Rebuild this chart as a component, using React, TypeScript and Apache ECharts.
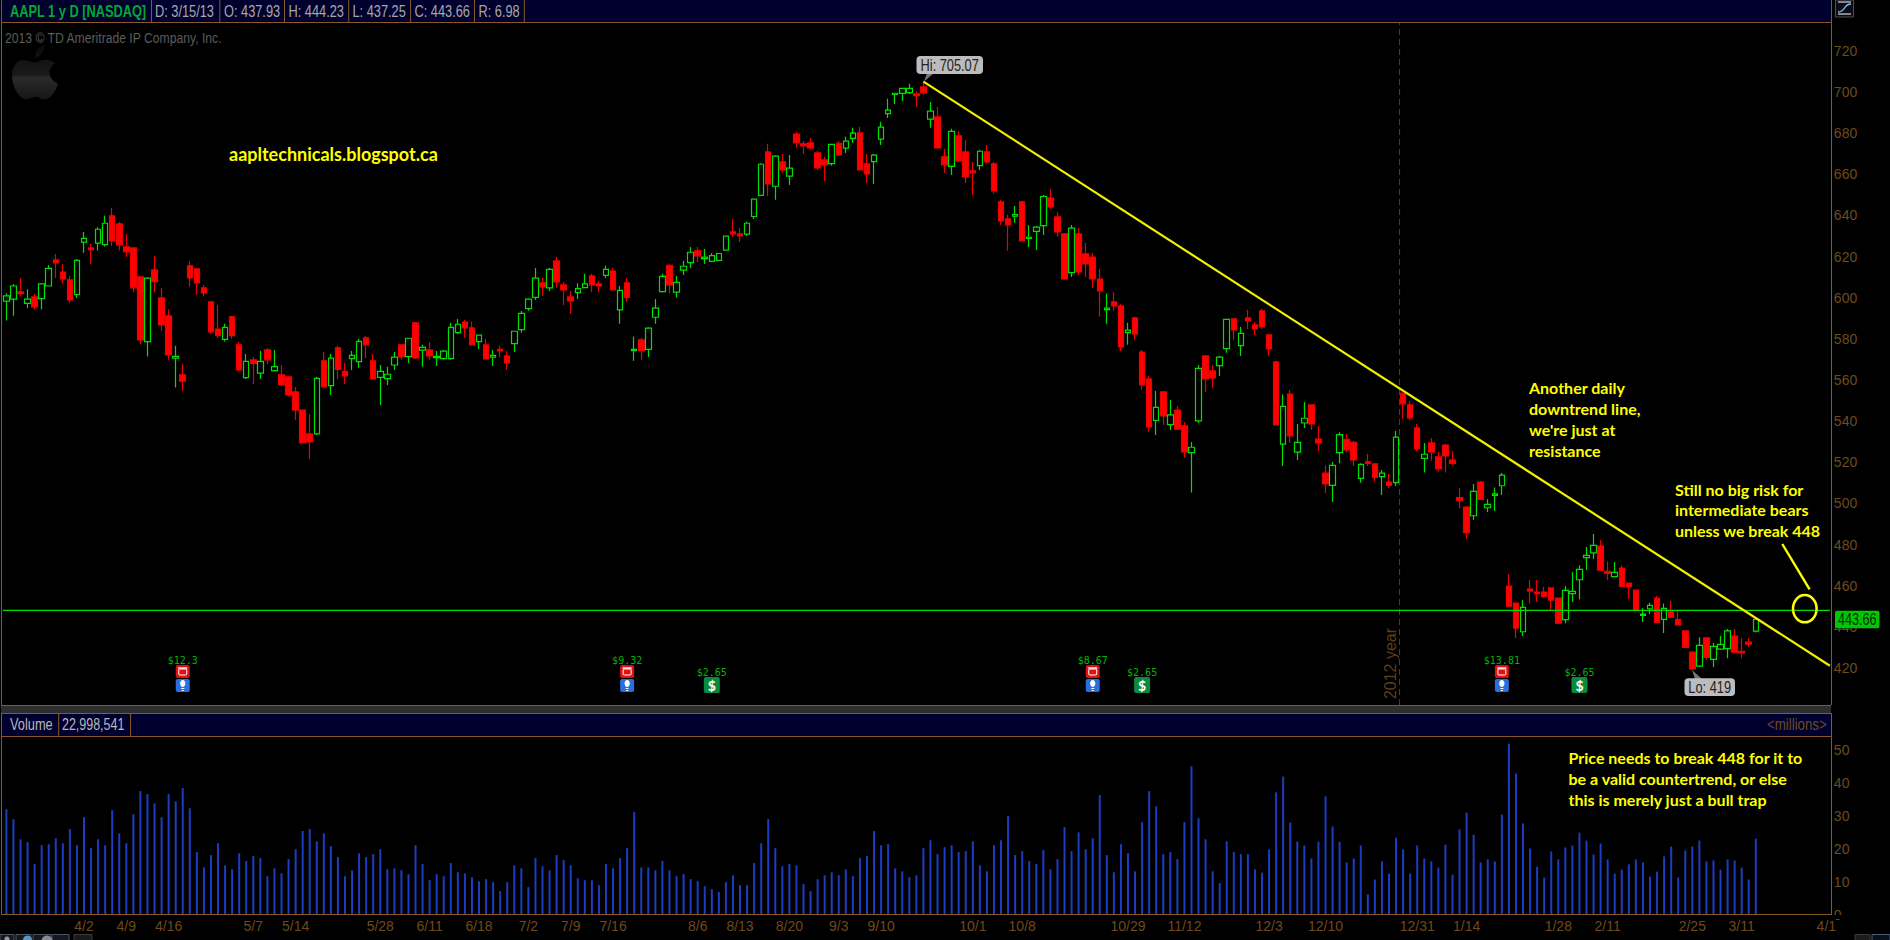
import React, { useEffect, useRef } from "react";
import * as echarts from "echarts";

// [open, close, low, high]
const ohlc: number[][] = [
[598.3,600.9,588.9,602.2],[599.3,605.7,591.2,606.7],[602.8,602,600.9,609.6],[597.3,599.3,595,604.1],[600.4,595.5,594.1,601.8],
[599.6,606.7,594.4,607],[605.7,614.3,605.4,615.8],[618.4,616.9,609.6,621.3],[612.5,609.1,606.7,616.4],[608.7,598.9,597.3,610.6],
[601.5,618.2,599.9,618.7],[627,628.9,621.9,632],[624.2,623.4,616.4,626.2],[626.5,633.3,622.9,634.3],[625.8,636.2,624.9,639.8],
[639.8,627.6,625.2,643.7],[635.9,625.7,622.9,636.9],[624.7,622.3,619.8,631],[624.2,604.8,602.8,624.5],[610.1,579.5,577.5,610.1],
[578.7,609.5,571.4,610],[613.5,607.8,602.5,620.3],[599.9,586.8,584,604.8],[591.2,572.2,569.8,594.4],[570.6,571.5,556.3,576.6],
[562.5,559.5,554.8,567.8],[615.5,609.6,605.4,617.9],[614,607.2,601.4,614.5],[604.8,602.3,600.6,606.2],[598,583.4,582.4,598.4],
[584.8,581.6,580.5,596.5],[579.8,585.6,578.7,587.3],[590.7,581.6,580,591.2],[577.1,564.9,564.4,578.5],[561.2,569.1,560.5,572.7],
[569.8,568.1,558.1,571.2],[563.3,569.1,560.5,574.1],[574.6,569.8,567.8,575.6],[564.6,566.5,564.1,574.6],[562.5,557.6,557.1,567.3],
[561.5,552.7,551.9,562],[554.2,545.4,540.6,556.6],[545.4,529.4,529.4,545.4],[533.8,529.9,521.6,543.5],[533.8,560.8,533.3,561.5],
[569.3,556.6,556.5,573.6],[557.3,570.6,552.7,572.7],[575.6,565.2,560.5,576.6],[564.2,562,558.1,568.1],[570.4,572,564.9,574.1],
[568.9,578.8,565.9,580],[580.5,577.1,570.7,581.4],[569.3,560.5,560,572.7],[561.3,564.2,547.9,567.3],[560.7,562.8,557.6,566.4],
[567.3,571.1,564.9,573.6],[577.1,571.2,569.8,577.1],[571.4,580.3,568.3,580.5],[587.8,570.7,570.2,588.2],[574.5,575.9,566.4,577.1],
[574.6,571.7,569.8,578.5],[570.9,571.5,566.8,574.1],[570.4,574,569.8,574.6],[570.4,585.6,569.8,587.8],[583,587.1,582.4,589.7],
[588.2,585.3,580.5,589.2],[585.3,577.1,577,588.2],[578.7,581.8,575.1,581.9],[577.1,570.2,569.8,580],[571.1,572,566.8,574.6],
[574.9,574.1,571.2,576.6],[571.7,568.3,564.9,574.1],[577.7,583.7,573.6,583.9],[584.5,592.4,583,593.6],[594.7,599.3,593.7,599.7],
[600.2,609.5,598.9,614.5],[607.2,605.3,600.9,609.6],[604.8,613.8,603.3,614.5],[617.9,607.7,604.8,619.8],[606.2,603.8,596.5,607.7],
[600.4,598.4,592.1,603.3],[602.5,604.4,599.4,607],[604.9,606.7,604.8,611.6],[610.6,606.2,602.8,611.6],[606.7,605.7,602.8,608.2],
[610.9,613.8,609.6,615.5],[613,603.8,603.5,614.5],[594.1,603.6,587.3,605.7],[607.2,600.2,598,609.6],
[574.3,574.9,569.4,581.1],[579.5,574.3,569.8,580.5],[574.9,585.2,571.2,585.6],[590.5,594.9,587.3,599.4],[603,610.4,602.5,611.6],
[615.8,606.2,602.2,616.3],[602.7,607.5,600.1,610.6],[613.4,615.3,611.1,617.9],[617.1,622.1,614.5,624.7],[622.8,620.3,617.4,624.7],
[619,619.7,616.4,623.7],[617.7,620.5,617.4,621.8],[618.2,621.5,617.9,621.8],[623.1,629.9,622.8,630],[632,631,629.6,638.3],
[631,630,627.1,633.9],[630.9,636.2,630,636.9],[639.5,647.9,638.3,648],[649.8,664.9,649.5,665.4],[670.9,655.3,649.5,674.8],
[654.2,668.8,647.6,669.3],[666,662.1,660.7,669.9],[659.1,663,654.8,669.4],[679.6,675.3,672.8,680.6],[674.8,673.8,669.9,676.2],
[675.3,672.8,671.9,677.7],[670.4,663.1,662.1,671.4],[667,664.6,656.8,668.5],[665.2,674.6,664.1,674.8],[675.1,669.4,668.9,676.2],
[672.7,676.1,670.4,678.2],[677.5,680,675.3,682.6],[680.1,662.1,661.7,683],[665.1,660.2,655.8,669.9],[666.2,669.3,655.3,669.9],
[677.1,682.9,674.3,685.5],[689.5,691.2,687.4,696.7],[698.8,699.4,694.2,699.4],[699.3,701.8,695.7,701.8],[699.7,701.8,699.1,704],
[699.1,698.3,692.8,700.1],[702.5,699.6,698.6,705.07],[686.8,690.7,682.6,695.2],[687.9,672.8,672.4,692.8],[668.5,664.6,660.7,672.4],
[663.9,680.9,659.7,682.1],[678.7,666.5,666,681.1],[670.9,658.7,655.8,676.7],[661.7,660.7,650,666],[664.2,671.2,662.1,671.9],
[670.9,666,665.1,674.3],[665.1,651.9,650.5,666],[646.6,637.3,635.4,647.6],[638.3,635.4,622.8,640.3],[639.6,640.4,636.4,644.6],
[646.6,627.6,627.6,647.1],[628.8,629.4,624.7,635.4],[632.3,634.3,623.2,634.9],[635.1,649.2,630.5,650],[648.5,644.2,643.2,652.9],
[639.3,632,629.6,641.7],[631,609.1,609.1,631.5],[612.2,633.8,610.1,635.4],[631,612.5,611.1,633.9],[621.3,616.4,610.1,626.6],
[619.8,609.1,604.8,621.8],[609.1,603.3,590.7,614],[594.2,594.9,587.3,602],[598,596,593.6,602.8],[596,576.1,574.1,597],
[583,584.2,577.1,587.8],[590.2,582.4,579.5,590.7],[573.6,557.6,555.2,574.6],[560.5,537.2,534.8,562],[540.3,546.7,533.3,554.7],
[554.2,542.5,538.2,554.7],[538.3,543,535.7,550.3],[545.4,536.1,535.7,547.4],[537.7,525,522.1,539.6],[524.7,527.3,505.3,529.9],
[540.1,565.7,539.1,567.3],[571.7,560.5,554.2,571.7],[564.4,561,556.1,567.3],[567,571.1,562,571.7],[575.3,589.5,573.2,589.7],
[589.7,584.3,579.5,590.2],[576.7,582.7,571.7,585.8],[590.2,588.7,584.8,594.1],[586.8,584.8,581.9,588.2],
[593.6,585.8,584.8,594.6],[581.9,575.1,571.7,581.9],[568.8,538.2,538.2,569.3],[528.8,547.2,518.2,553],[553.2,532.8,529.4,555.2],
[524.9,529.7,521.1,538.6],[539.1,541.4,536.7,549.3],[547.9,538.6,535.7,547.9],[531.3,529.4,525.5,537.7],[514.7,509.5,504.9,518.4],
[508.8,518.5,500.7,520.2],[524.7,533.4,519.5,534.6],[531.2,526,525,533.8],[529.7,521.1,518.2,530.4],[512.2,519,510.1,519.5],
[520.2,519.4,518.2,524.1],[519.2,512.7,510.6,519.2],[513,514.7,504.1,516.3],[510.4,508.8,507.4,514.3],[510.1,532.2,508.5,535.2],
[553.6,548.4,541.1,553.9],[547.9,541.6,540.6,549.8],[536.7,526.5,525.5,538.6],[521.9,523.9,515,529.4],[529.4,525,520.7,531.8],
[522.6,516.8,515.5,525],[528.4,523.1,515,528.9],[521.1,519.5,518.7,525.5],[502.8,501.3,497.6,507.5],[498.2,485.8,482.7,498.7],
[494,505.9,491.9,509.4],[510.4,502,501.7,510.9],[497.9,499.5,495.8,502],[503.9,504.6,496.3,507.8],[508.6,513.8,504.1,514.8],
[459.8,450.1,449.8,465.7],[451.6,439.4,434.6,451.6],[437.6,449.5,435.5,453],[458.4,457.4,451.4,462.8],[456.9,456.1,452.1,462.8],
[456.9,454.8,454.3,459.5],[458.9,453,448.2,459.3],[454,441.8,441.4,454],[443.5,457.7,441.7,459.8],[456.1,457.2,452.1,466.6],
[462.9,467.9,453.4,469.9],[473.6,474.7,467.6,478.8],[476,479.6,473,485.1],[479.3,467.5,467.1,482.2],[467,466,462.8,471.8],
[464.4,466.5,464.1,471.5],[468.6,459.7,459.2,470],[461.3,459.4,453.5,461.3],[457.9,448.2,448.2,457.9],[445.6,446.2,442.3,449],
[448.8,450.4,446.2,451.7],[454,442.2,441.8,455],[443.6,449,437,451.4],[447.7,444.6,444.4,452.5],[443.6,440.9,440.7,447.7],
[438,430,429.5,438],[427.7,419.5,419,428.2],[420.9,431,420.5,434.9],[434.6,425.2,423.9,435],[424.2,430.5,420.5,432.1],
[429.2,431.5,428.7,435.5],[429.4,438,424.7,438.9],[435.5,427.7,427.1,438.9],[428.1,427.3,424.7,434.6],[432.6,431.6,430.2,434.6],
[437.93,443.66,437.25,444.23],
];

// volume, millions
const volumes: number[] = [
31.9,28.9,22.8,21.9,15.3,21,21.3,23.1,21.6,25.9,21,29.5,20.1,22.8,21,31.6,24.6,21.6,30.4,37.4,
36.5,33.7,29.5,36.5,34.3,38.3,32.2,18.9,14.3,18,21.6,14.9,13.7,18.6,16.2,17.7,17.1,11.6,14,12.5,
16.8,19.8,25.3,25.9,22.2,24.6,20.7,17.4,11.6,13.4,18.6,17.4,18.3,19.8,13.7,14,13.4,12.2,21,15.3,
10.4,12.2,11.6,15.6,12.8,12.5,11.3,10.1,10.7,9.8,7.1,9.8,14.9,14,8.3,17.1,14.6,13.4,18,16.5,
14.9,11,10.4,10.4,8.9,15.3,14,17.1,20.1,
31,14.3,14.3,13.4,16.2,13.4,11.6,12.2,10.7,10.1,8.6,7.7,6.8,9.8,11.9,8.9,8.9,15.6,21.6,28.9,
20.1,14.6,15.3,14.9,9.2,7.1,10.7,11.9,12.8,11.9,13.7,11.6,17.1,17.7,25.3,21,21.3,14,13.1,11.3,
11.9,20.1,22.5,18.3,20.4,21,18.9,19.2,22.2,14.9,13.1,21,22.5,29.8,18,19.2,16.2,15.3,19.5,13.7,
16.8,26.5,19.2,24.9,19.8,23.1,36.2,18,12.8,21.3,18.6,13.1,28,37.4,32.8,18.3,18.9,16.8,28,44.9,
29.2,22.8,13.1,9.5,22.2,18.9,18.3,18.3,13.7,
12.7,19.7,37,41.8,27.9,22.1,20.9,17,22.1,35.8,26.7,22.1,15.8,17,20.9,6.1,10.6,16.1,12.4,23.3,
19.7,12.4,20.9,17,16.1,14.2,21.2,12.1,25.8,30.9,24.2,15.8,16.7,16.1,30.3,51.8,42.7,27.6,20,14.5,
11.2,19.1,16.7,20.3,20.9,24.8,22.4,18.2,21.5,16.7,12.4,13.6,15.2,16.7,15.8,11.5,13,17.6,20.6,11.2,
19.4,20.6,22.4,16.1,16.4,13.6,16.7,16.4,14.2,10.6,23,
];

const SLOT_COUNT = 259;
const dateLabels: [number, string][] = [
[11,"4/2"],[17,"4/9"],[23,"4/16"],[35,"5/7"],[41,"5/14"],[53,"5/28"],[60,"6/11"],[67,"6/18"],[74,"7/2"],[80,"7/9"],
[86,"7/16"],[98,"8/6"],[104,"8/13"],[111,"8/20"],[118,"9/3"],[124,"9/10"],[137,"10/1"],[144,"10/8"],[159,"10/29"],[167,"11/12"],
[179,"12/3"],[187,"12/10"],[200,"12/31"],[207,"1/14"],[220,"1/28"],[227,"2/11"],[239,"2/25"],[246,"3/11"],[258,"4/1"],
];
const priceTicks = [420,440,460,480,500,520,540,560,580,600,620,640,660,680,700,720];
const volumeTicks = [0,10,20,30,40,50];
const trendline: number[][] = [[130,705.07],[258.5,421.1]];
const support = 448;
const yearSlot = 197.5;
const earnings: [number, string][] = [[25,"$12.3"],[88,"$9.32"],[154,"$8.67"],[212,"$13.81"]];
const dividends: [number, string][] = [[100,"$2.65"],[161,"$2.65"],[223,"$2.65"]];
const headerCells: [number, string][] = [[155,"D: 3/15/13"],[224,"O: 437.93"],[288.5,"H: 444.23"],[352.5,"L: 437.25"],[414.5,"C: 443.66"],[478.5,"R: 6.98"]];
const headerSeps = [151.5,219.8,284.5,348.7,410.6,474.5,524.3];
const noteTrend = ["Another daily","downtrend line,","we're just at","resistance"];
const noteBears = ["Still no big risk for","intermediate bears","unless we break 448"];
const noteVolume = ["Price needs to break 448 for it to","be a valid countertrend, or else","this is merely just a bull trap"];

const BROWN = "#6e4a1e";
const BORDER = "#8a5a22";
const NAVY = "#00002e";
const GREEN = "#00e000";
const YELLOW = "#ffff00";
const SANS = '"Liberation Sans",Arial,sans-serif';
const NOTE = 'Lato,"Open Sans",sans-serif';
const NARROW_SCALE = 0.8;

const GRID_LEFT = 2.87;
const GRID_W = 1827;
const slotX = (i: number) => GRID_LEFT + ((i + 0.5) * GRID_W) / SLOT_COUNT;

echarts.graphic.registerShape(
  "applelogo",
  echarts.graphic.extendPath("M72 32 C60 32 55 38 48 38 C41 38 34 32 24 32 C10 33 0 47 0 66 C0 92 16 118 30 118 C38 118 41 113 50 113 C59 113 62 118 70 118 C84 118 94 96 98 84 C86 79 80 70 80 60 C80 50 86 43 92 40 C87 34 79 32 72 32 Z M70 0 C70 10 62 26 50 27 C48 15 58 2 70 0 Z", {}) as any
);

const T = (x: number, y: number, text: string, fill: string, font: string, extra: any = {}, scaleX = 1) => ({
  type: "text", x, y, scaleX, z: 110, silent: true,
  style: { text, fill, font, textVerticalAlign: "middle", ...extra },
});
const R = (x: number, y: number, width: number, height: number, fill: string, z = 100, r = 0, stroke?: string) => ({
  type: "rect", z, silent: true, shape: { x, y, width, height, r }, style: { fill, stroke, lineWidth: stroke ? 1 : 0 },
});
const L = (x1: number, y1: number, x2: number, y2: number, stroke: string, lineWidth = 1, z = 101) => ({
  type: "line", z, silent: true, shape: { x1, y1, x2, y2 }, style: { stroke, lineWidth },
});

function buildGraphics() {
  const g: any[] = [];
  // header bars, borders
  g.push(R(1, 0, 1830, 22, NAVY));
  g.push(R(1, 714, 1830, 22, NAVY));
  g.push(R(1, 706, 1830, 7, "#2e2e2e"));
  g.push(L(1, 22.5, 1831, 22.5, BORDER));
  g.push(L(1, 705.5, 1831, 705.5, BORDER));
  g.push(L(1, 713.5, 1831, 713.5, BORDER));
  g.push(L(1, 736.5, 1831, 736.5, BORDER));
  g.push(L(1, 914.5, 1831, 914.5, BORDER));
  g.push(L(1.5, 0, 1.5, 705, BORDER));
  g.push(L(1.5, 713, 1.5, 915, BORDER));
  g.push(L(1831.5, 0, 1831.5, 705, BORDER));
  g.push(L(1831.5, 713, 1831.5, 915, BORDER));
  headerSeps.forEach((x) => g.push(L(x, 0, x, 22, BORDER)));
  g.push(L(58.7, 714, 58.7, 736, BORDER));
  g.push(L(130.6, 714, 130.6, 736, BORDER));
  g.push(R(1832, 915, 30, 4, "#000000", 105));
  // header texts
  g.push(T(10, 11, "AAPL 1 y D [NASDAQ]", "#00a832", "bold 16px " + SANS, {}, NARROW_SCALE));
  headerCells.forEach(([x, s]) => g.push(T(x, 11, s, "#a8a8a8", "16px " + SANS, {}, NARROW_SCALE)));
  g.push(T(5, 38, "2013 © TD Ameritrade IP Company, Inc.", "#5c5c5c", "14.5px " + SANS, {}, 0.84));
  g.push(T(10, 724.5, "Volume", "#b8b8b8", "16px " + SANS, {}, NARROW_SCALE));
  g.push(T(62, 724.5, "22,998,541", "#b8b8b8", "16px " + SANS, {}, 0.78));
  g.push(T(1767, 724.5, "<millions>", BROWN, "16px " + SANS, {}, 0.83));
  // logo
  g.push({
    type: "applelogo", x: 12, y: 45, scaleX: 0.47, scaleY: 0.46, z: 20, silent: true,
    style: {
      fill: { type: "linear", x: 0, y: 0, x2: 0, y2: 1, colorStops: [{ offset: 0, color: "#0a0a0a" }, { offset: 0.55, color: "#1a1a1a" }, { offset: 0.6, color: "#2a2a2a" }, { offset: 1, color: "#161616" }] },
    },
  });
  // annotations
  g.push(T(229, 153.5, "aapltechnicals.blogspot.ca", YELLOW, "bold 18px " + NOTE));
  noteTrend.forEach((s, i) => g.push(T(1529, 387 + i * 21.2, s, YELLOW, "bold 16px " + NOTE)));
  noteBears.forEach((s, i) => g.push(T(1675, 489 + i * 20.9, s, YELLOW, "bold 16px " + NOTE)));
  noteVolume.forEach((s, i) => g.push(T(1568.5, 757 + i * 21, s, YELLOW, "bold 16px " + NOTE)));
  g.push(L(1782.3, 544, 1809.6, 589.3, YELLOW, 2.4));
  g.push({ type: "ellipse", z: 101, silent: true, shape: { cx: 1804.8, cy: 608.7, rx: 11.8, ry: 13.6 }, style: { fill: "none", stroke: YELLOW, lineWidth: 2.5 } });
  // year label
  g.push({
    type: "text", x: 1390.5, y: 663.5, rotation: Math.PI / 2, z: 30, silent: true,
    style: { text: "2012 year", fill: "#5c3f1a", font: "16px " + SANS, textAlign: "center", textVerticalAlign: "middle" },
  });
  // Hi / Lo callouts
  g.push({ type: "polygon", z: 102, silent: true, shape: { points: [[924, 81.5], [927, 73], [934, 73]] }, style: { fill: "#777" } });
  g.push(R(916.5, 56, 66.5, 18, "#bcbcbc", 103, 4));
  g.push(T(949.7, 65, "Hi: 705.07", "#222", "16px " + SANS, { textAlign: "center" }, NARROW_SCALE));
  g.push({ type: "polygon", z: 102, silent: true, shape: { points: [[1692, 670], [1695, 679], [1702, 679]] }, style: { fill: "#777" } });
  g.push(R(1684.5, 678.3, 50.5, 17.7, "#bcbcbc", 103, 4));
  g.push(T(1709.7, 687, "Lo: 419", "#222", "16px " + SANS, { textAlign: "center" }, NARROW_SCALE));
  // last price tag
  g.push(R(1835, 610.7, 44.5, 17.5, "#00c800", 106, 2));
  g.push(T(1857.2, 619.5, "443.66", "#062a06", "16px " + SANS, { textAlign: "center" }, 0.79));
  // events
  earnings.forEach(([i, s]) => {
    const x = slotX(i);
    g.push(T(x, 660, s, "#00b400", '10px "DejaVu Sans Mono",monospace', { textAlign: "center" }));
    g.push(R(x - 7, 665, 14, 13, "#e01010", 100, 2));
    g.push(R(x - 4, 669, 8, 6, "none", 101, 1, "#ffffff"));
    g.push(L(x - 4.5, 668, x + 4.5, 668, "#ffffff", 1.4));
    g.push(R(x - 7, 679, 14, 13, "#2a6fe0", 100, 2));
    g.push({ type: "ellipse", z: 101, silent: true, shape: { cx: x, cy: 683.5, rx: 2.6, ry: 3.4 }, style: { fill: "#ffffff" } });
    g.push(L(x - 1.5, 688.5, x + 1.5, 688.5, "#ffffff", 1));
    g.push(L(x - 1, 690.5, x + 1, 690.5, "#ffffff", 1));
  });
  dividends.forEach(([i, s]) => {
    const x = slotX(i);
    g.push(T(x, 672, s, "#00b400", '10px "DejaVu Sans Mono",monospace', { textAlign: "center" }));
    g.push(R(x - 8, 677, 16, 16, "#0a8a3e", 100, 2));
    g.push(T(x, 685.5, "$", "#ffffff", "bold 14px " + NOTE, { textAlign: "center" }));
  });
  // corner widgets
  g.push(R(1835.5, 0, 18, 17, "#0c0c14", 100, 0, "#4a4f5a"));
  g.push(L(1838, 2, 1851, 2, "#ffffff", 1));
  g.push(L(1838, 14, 1851, 14, "#ffffff", 1));
  g.push({ type: "bezierCurve", z: 102, silent: true, shape: { x1: 1838, y1: 12, cpx1: 1846, cpy1: 12, cpx2: 1843, cpy2: 4, x2: 1851, y2: 4 }, style: { stroke: "#78c0f0", lineWidth: 1.4, fill: "none" } });
  [[0, 14], [16, 15], [33, 18], [52, 17]].forEach(([x, w]) => g.push(R(x, 934.5, w, 6, "#15181f", 100, 0, "#4c5260")));
  g.push({ type: "circle", z: 101, silent: true, shape: { cx: 7, cy: 939, r: 2.5 }, style: { fill: "#99a" } });
  g.push({ type: "circle", z: 101, silent: true, shape: { cx: 27.5, cy: 940, r: 4.5 }, style: { fill: "#5a96c8" } });
  g.push({ type: "circle", z: 101, silent: true, shape: { cx: 47, cy: 941, r: 5.5 }, style: { fill: "#8a8a8a" } });
  g.push(R(74, 934.5, 18, 6, "#1a1a1a", 100, 0, "#3a3a3a"));
  g.push(R(1855, 934.5, 15, 6, "#1c1c1c", 100, 0, "#3a3a3a"));
  g.push(R(1872, 934.5, 18, 6, "#0c1018", 100, 0, "#4a5a78"));
  return g;
}

export default function App() {
  const ref = useRef<HTMLDivElement>(null);
  useEffect(() => {
    document.body.style.margin = "0";
    document.body.style.background = "#000";
    const chart = echarts.init(ref.current!, undefined, { renderer: "svg" });
    const byIndex = new Map(dateLabels);
    const categories = Array.from({ length: SLOT_COUNT }, (_, i) => byIndex.get(i) ?? "");
    chart.setOption({
      animation: false,
      backgroundColor: "#000000",
      grid: [
        { left: GRID_LEFT, width: GRID_W, top: 22.3, height: 682.7 },
        { left: GRID_LEFT, width: GRID_W, top: 736, height: 178.5 },
      ],
      xAxis: [
        { type: "category", gridIndex: 0, data: categories, show: false, boundaryGap: true },
        { type: "value", gridIndex: 0, min: -0.5, max: SLOT_COUNT - 0.5, show: false },
        {
          type: "category", gridIndex: 1, data: categories, boundaryGap: true,
          axisLine: { show: false }, axisTick: { show: false }, splitLine: { show: false },
          axisLabel: {
            color: BROWN, fontFamily: SANS, fontSize: 14, margin: 4, hideOverlap: false,
            interval: (i: number) => categories[i] !== "",
          },
        },
      ],
      yAxis: [
        {
          type: "value", gridIndex: 0, position: "right", min: 402, max: 733.9, splitLine: { show: false },
          axisLine: { show: false }, axisTick: { show: false },
          axisLabel: { customValues: priceTicks, color: BROWN, fontFamily: SANS, fontSize: 14, margin: 4, align: "left" },
        },
        {
          type: "value", gridIndex: 1, position: "right", min: 0, max: 54.1, splitLine: { show: false },
          axisLine: { show: false }, axisTick: { show: false },
          axisLabel: { customValues: volumeTicks, color: BROWN, fontFamily: SANS, fontSize: 14, margin: 4, align: "left" },
        },
      ],
      series: [
        {
          type: "line", name: "support", xAxisIndex: 1, yAxisIndex: 0, symbol: "none", z: 3,
          data: [[-0.5, support], [SLOT_COUNT - 0.5, support]],
          lineStyle: { color: GREEN, width: 1.3 },
        },
        {
          type: "line", name: "2012 year", xAxisIndex: 1, yAxisIndex: 0, symbol: "none", z: 1,
          data: [[yearSlot, 402], [yearSlot, 733.9]],
          lineStyle: { color: "#5c3f1a", width: 1, type: [6, 4] },
        },
        {
          type: "candlestick", name: "AAPL", xAxisIndex: 0, yAxisIndex: 0, barWidth: 6, z: 2, clip: false,
          data: ohlc,
          itemStyle: {
            color: "rgba(0,0,0,0)", color0: "#ff0000", borderColor: "#00e000", borderColor0: "#ee0000", borderWidth: 1.2,
          },
        },
        {
          type: "line", name: "downtrend", xAxisIndex: 1, yAxisIndex: 0, symbol: "none", z: 4,
          data: trendline,
          lineStyle: { color: "#f4f000", width: 2.2 },
        },
        {
          type: "bar", name: "Volume", xAxisIndex: 2, yAxisIndex: 1, barWidth: 2,
          data: volumes, itemStyle: { color: "#1c3cc4" },
        },
      ],
      graphic: { elements: buildGraphics() },
    });
    return () => chart.dispose();
  }, []);
  return <div ref={ref} style={{ position: "absolute", left: 0, top: 0, width: 1890, height: 940, background: "#000" }} />;
}
